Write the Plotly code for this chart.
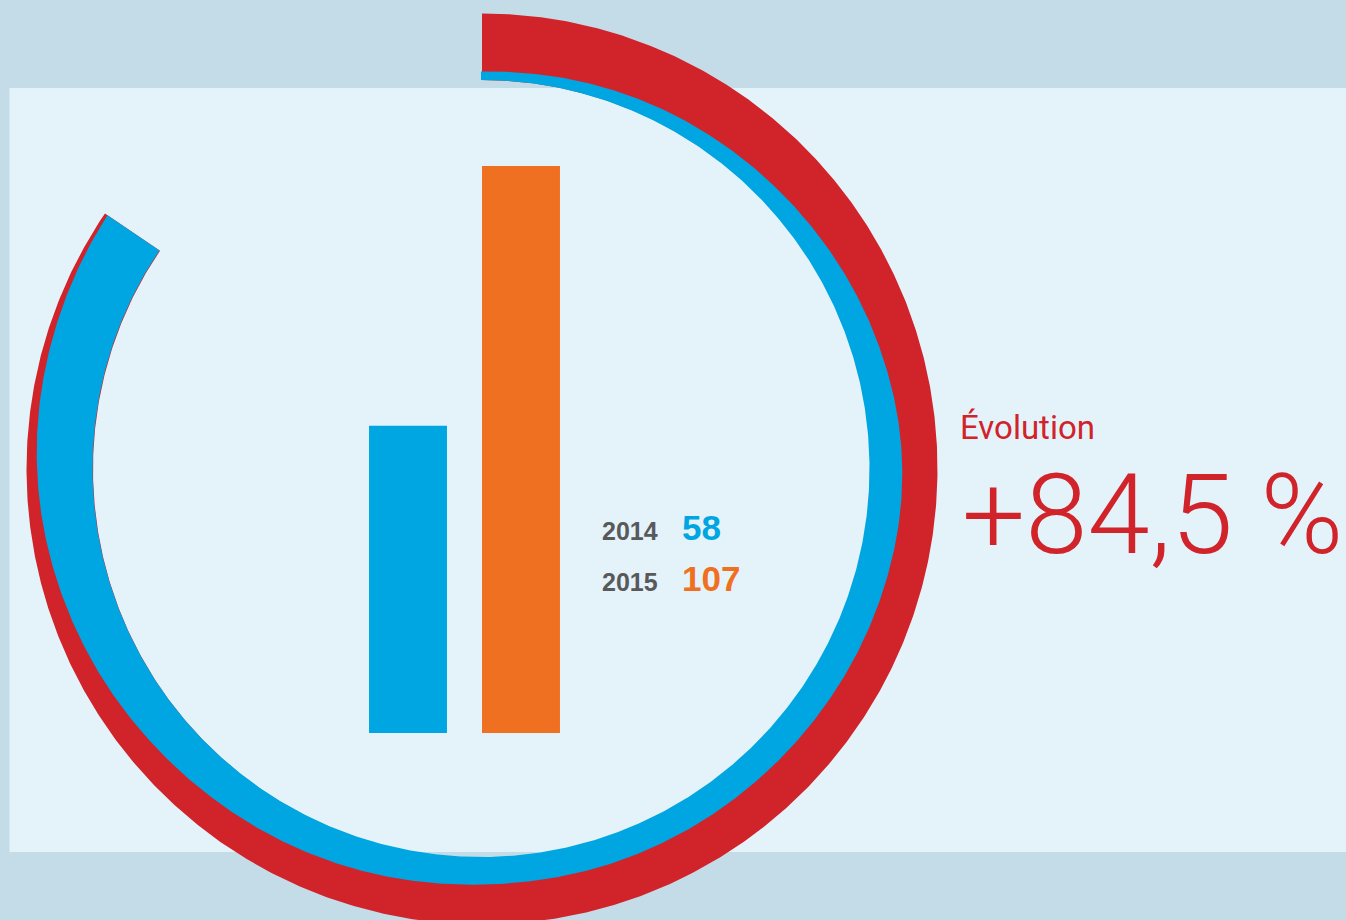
import numpy as np
import plotly.graph_objects as go

# ---------------- data ----------------
years = ["2014", "2015"]
values = [58, 107]
evolution_label = "Évolution"

# ---------------- style ----------------
W, H = 1346, 920
BG_OUTER = "#c4dce8"
BG_PANEL = "#e4f3fa"
RED = "#d1232a"
BLUE = "#00a6e2"
ORANGE = "#f07022"
GREY = "#58595b"
bar_colors = [BLUE, ORANGE]

evol = (values[1] - values[0]) / values[0] * 100.0
sweep = evol / 100.0 * 360.0
evol_text = "+" + f"{evol:.1f}".replace(".", ",") + " %"

# ring geometry (style)
C_BLUE = (481.0, 468.5)
R_BLUE_IN = 388.5
C_RED = (482.0, 469.0)
R_RED_OUT = 455.5
R_RED_IN = 389.0
thick_ang = [0, 45, 90, 135, 180, 225, 270, 360]
thick_val = [8, 18, 34, 28, 27, 38, 56, 74]


def ring_path(center, r_in_fn, r_out_fn, sweep_deg, n=900):
    t = np.linspace(0, sweep_deg, n)
    tr = np.radians(t)
    ro = r_out_fn(t)
    ri = r_in_fn(t)
    xo = center[0] + ro * np.sin(tr)
    yo = center[1] - ro * np.cos(tr)
    xi = center[0] + ri * np.sin(tr)
    yi = center[1] - ri * np.cos(tr)
    x = np.concatenate([xo, xi[::-1], xo[:1]])
    y = np.concatenate([yo, yi[::-1], yo[:1]])
    return x, y


def blue_thick(t):
    fine = np.linspace(0, 360, 721)
    v = np.interp(fine, thick_ang, thick_val)
    k = 41
    vp = np.pad(v, k // 2, mode="edge")
    vs = np.convolve(vp, np.ones(k) / k, mode="valid")
    return np.interp(t, fine, vs)


fig = go.Figure()

# red ring
rx, ry = ring_path(C_RED, lambda t: np.full_like(t, R_RED_IN),
                   lambda t: np.full_like(t, R_RED_OUT), sweep)
fig.add_trace(go.Scatter(x=rx, y=ry, mode="lines", fill="toself",
                         fillcolor=RED, line=dict(width=0, color=RED),
                         hoverinfo="skip", showlegend=False))
# blue ring
bx, by = ring_path(C_BLUE, lambda t: np.full_like(t, R_BLUE_IN),
                   lambda t: R_BLUE_IN + blue_thick(t), sweep)
fig.add_trace(go.Scatter(x=bx, y=by, mode="lines", fill="toself",
                         fillcolor=BLUE, line=dict(width=0, color=BLUE),
                         hoverinfo="skip", showlegend=False))

# bars
fig.add_trace(go.Bar(x=years, y=values, marker=dict(color=bar_colors, line=dict(width=0)),
                     xaxis="x2", yaxis="y2", hoverinfo="skip", showlegend=False))

# panel
shapes = [dict(type="rect", xref="x", yref="y", x0=9.5, x1=W, y0=88, y1=852,
               fillcolor=BG_PANEL, line=dict(width=0), layer="below")]

annotations = []
lab_font = "Liberation Sans, Arial, sans-serif"
row_baselines = [540, 591]
val_colors = [BLUE, ORANGE]
for yr, val, base, col in zip(years, values, row_baselines, val_colors):
    annotations.append(dict(x=600, y=base - 0.36 * 25, xref="x", yref="y", text=f"<b>{yr}</b>",
                            showarrow=False, xanchor="left", yanchor="middle",
                            font=dict(family=lab_font, size=25, color=GREY)))
    annotations.append(dict(x=680, y=base - 0.36 * 35, xref="x", yref="y", text=f"<b>{val}</b>",
                            showarrow=False, xanchor="left", yanchor="middle",
                            font=dict(family=lab_font, size=35, color=col)))

thin = "Roboto, Liberation Sans, sans-serif"
annotations.append(dict(x=958, y=439 - 0.36 * 33, xref="x", yref="y", text=evolution_label,
                        showarrow=False, xanchor="left", yanchor="middle",
                        font=dict(family=thin, size=33, color=RED, weight=400)))
annotations.append(dict(x=960, y=555 - 0.36 * 112, xref="x", yref="y", text=evol_text,
                        showarrow=False, xanchor="left", yanchor="middle",
                        font=dict(family=thin, size=112, color=RED, weight=300)))

fig.update_layout(
    width=W, height=H, margin=dict(l=0, r=0, t=0, b=0, pad=0),
    paper_bgcolor=BG_OUTER, plot_bgcolor="rgba(0,0,0,0)",
    xaxis=dict(range=[0, W], visible=False, domain=[0, 1], fixedrange=True),
    yaxis=dict(range=[H, 0], visible=False, domain=[0, 1], fixedrange=True),
    xaxis2=dict(type="category", range=[-0.5, 1.5], visible=False, anchor="y2",
                domain=[351.5 / W, 577.5 / W]),
    yaxis2=dict(range=[0, max(values)], visible=False, anchor="x2",
                domain=[(H - 733) / H, (H - 166) / H]),
    bargap=0.31,
    shapes=shapes, annotations=annotations,
)

fig.write_html("out.html")
